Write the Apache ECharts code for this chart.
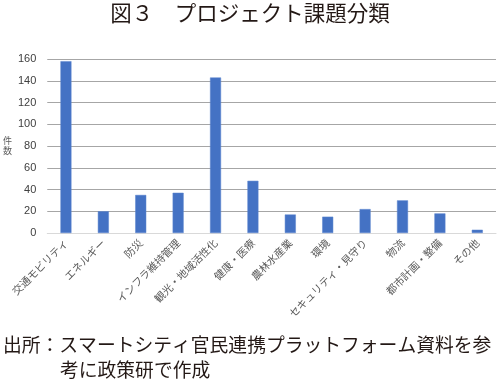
<!DOCTYPE html>
<html>
<head>
<meta charset="utf-8">
<script src="https://cdn.jsdelivr.net/npm/echarts@6/dist/echarts.min.js"></script>
<style>
html,body{margin:0;padding:0;background:#fff;}
#chart{width:500px;height:379px;}
</style>
</head>
<body>
<div id="chart"></div>
<script>
var titleText = '図３　プロジェクト課題分類';
var sourceLine1 = '出所：スマートシティ官民連携プラットフォーム資料を参';
var sourceLine2 = '考に政策研で作成';
var yAxisName = '件\n数';
var categories = ['交通モビリティ','エネルギー','防災','インフラ維持管理','観光・地域活性化','健康・医療','農林水産業','環境','セキュリティ・見守り','物流','都市計画・整備','その他'];
var values = [158, 20, 35, 37, 143, 48, 17, 15, 22, 30, 18, 3];
var yMin = 0, yMax = 160, yInterval = 20;

var cjk = '"Noto Sans CJK JP", "Noto Sans", sans-serif';
var chart = echarts.init(document.getElementById('chart'), null, {renderer: 'canvas'});
chart.setOption({
  animation: false,
  backgroundColor: '#ffffff',
  grid: {left: 43, right: 4, top: 59, bottom: 146, containLabel: false},
  xAxis: {
    type: 'category',
    data: categories,
    axisLine: {show: true, lineStyle: {color: '#d9d9d9', width: 1}},
    axisTick: {show: false},
    axisLabel: {interval: 0, rotate: 45, margin: 8, fontSize: 10.5, color: '#595959', fontFamily: cjk}
  },
  yAxis: {
    type: 'value',
    min: yMin, max: yMax, interval: yInterval,
    name: yAxisName,
    nameLocation: 'middle',
    nameRotate: 0,
    nameGap: 35,
    nameTextStyle: {fontSize: 9, color: '#595959', fontFamily: cjk, lineHeight: 10},
    axisLine: {show: false},
    axisTick: {show: false},
    axisLabel: {margin: 11, fontSize: 11, color: '#404040', fontFamily: '"Liberation Sans", Arial, sans-serif'},
    splitLine: {show: true, lineStyle: {color: '#a6a6a6', width: 1.2}}
  },
  series: [{
    type: 'bar',
    data: values,
    barWidth: 11,
    itemStyle: {color: '#4472c4', borderColor: '#5a84cf', borderWidth: 0.5}
  }],
  graphic: [
    {type: 'text', left: 'center', top: 2, style: {text: titleText, font: '21.5px ' + cjk, fill: '#231815'}},
    {type: 'text', left: 3, top: 335, style: {text: sourceLine1, font: '18.8px ' + cjk, fill: '#231815'}},
    {type: 'text', left: 60, top: 360, style: {text: sourceLine2, font: '18.8px ' + cjk, fill: '#231815'}}
  ]
});
</script>
</body>
</html>
